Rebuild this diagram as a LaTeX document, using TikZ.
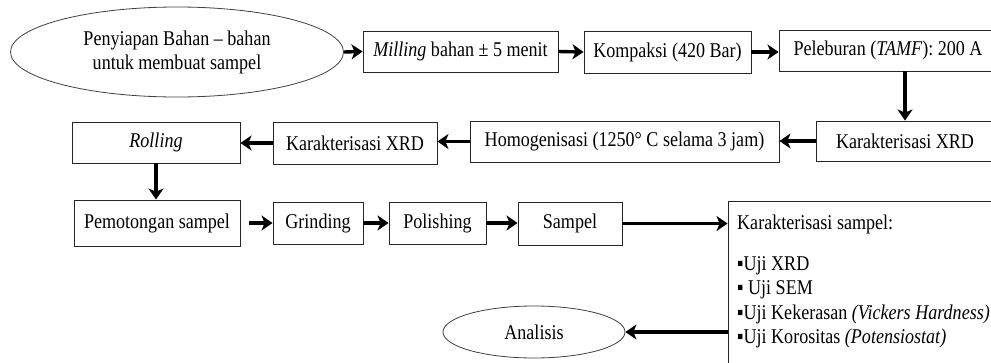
\documentclass[tikz,border=0pt]{standalone}
\usepackage{fontspec}
\setmainfont[FakeStretch=0.86]{Liberation Serif}
\usetikzlibrary{arrows.meta,shapes.geometric}
\begin{document}
\begin{tikzpicture}[x=1pt,y=-1pt,
  every node/.style={font=\fontsize{21}{24}\selectfont, inner sep=0pt},
  box/.style={draw=black!85, line width=0.9pt, rectangle},
  oval/.style={draw=black!75, line width=0.8pt, ellipse},
  arr/.style={line width=3.4pt, -{Stealth[length=11pt,width=15pt,inset=3pt]}},
  lbl/.style={anchor=base west}]
\useasboundingbox (0,0) rectangle (991,362);
\clip (0,0) rectangle (991,362);
\fill[white] (0,0) rectangle (991,362);
% row 1
\node[oval, minimum width=333, minimum height=90, align=center] (prep) at (177,52)
  {Penyiapan Bahan -- bahan\\untuk membuat sampel};
\node[box, minimum width=195, minimum height=41] (mill) at (460.5,51.5) {\textit{Milling} bahan ± 5 menit};
\node[box, minimum width=167, minimum height=42] (komp) at (667.5,52) {Kompaksi (420 Bar)};
\node[box, minimum width=218, minimum height=41] (leb) at (888,50.5) {Peleburan (\textit{TAMF}): 200 A};
% row 2
\node[box, minimum width=178, minimum height=40] (xrdA) at (905,141) {Karakterisasi XRD};
\node[box, minimum width=309, minimum height=41] (homo) at (624.5,141.5) {Homogenisasi (1250° C selama 3 jam)};
\node[box, minimum width=164, minimum height=42] (xrdB) at (355,143) {Karakterisasi XRD};
\node[box, minimum width=168, minimum height=41] (roll) at (156,142.5) {\textit{Rolling}};
% row 3
\node[box, minimum width=166, minimum height=46] (pot) at (157,223) {Pemotongan sampel};
\node[box, minimum width=90, minimum height=42] (grind) at (318,223) {Grinding};
\node[box, minimum width=97, minimum height=42] (pol) at (437.5,223) {Polishing};
\node[box, minimum width=104, minimum height=43] (samp) at (570,223.5) {Sampel};
\node[box, minimum width=272, minimum height=180] (kar) at (864,291) {};
\node[lbl] (k1) at (737,229) {Karakterisasi sampel:};
\node[lbl] (k2) at (737,270) {▪Uji XRD};
\node[lbl] (k3) at (737,294.5) {▪ Uji SEM};
\node[lbl] (k4) at (737,319) {▪Uji Kekerasan \textit{(Vickers Hardness)}};
\node[lbl] (k5) at (737,343) {▪Uji Korositas \textit{(Potensiostat)}};
\node[oval, minimum width=182, minimum height=52] (ana) at (534,332) {Analisis};
% connectors
\draw[arr] (prep.east) -- (mill.west);
\draw[arr] (mill.east) -- (komp.west);
\draw[arr] (komp.east) -- (leb.west |- komp.east);
\draw[arr] (xrdA.north |- leb.south) -- (xrdA.north);
\draw[arr] (xrdA.west) -- (homo.east |- xrdA.west);
\draw[arr] (homo.west) -- (xrdB.east |- homo.west);
\draw[arr] (xrdB.west) -- (roll.east |- xrdB.west);
\draw[arr] (roll.south) -- (roll.south |- pot.north);
\draw[arr] ([xshift=9pt]pot.east) -- (grind.west |- pot.east);
\draw[arr] (grind.east) -- (pol.west);
\draw[arr] (pol.east) -- (samp.west |- pol.east);
\draw[arr] (samp.east) -- (samp.east -| kar.west);
\draw[arr] (ana.east -| kar.west) -- (ana.east);
\end{tikzpicture}
\end{document}
